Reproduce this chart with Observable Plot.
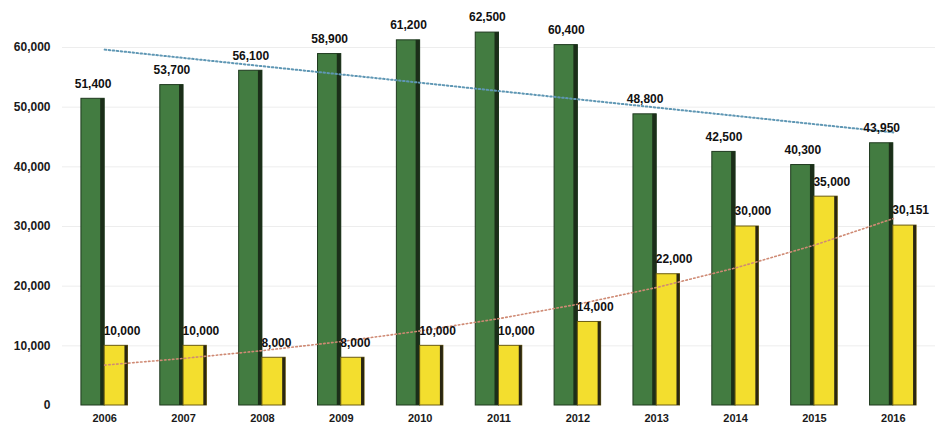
<!DOCTYPE html>
<html>
<head>
<meta charset="utf-8">
<script src="https://cdn.jsdelivr.net/npm/d3@7"></script>
<script src="https://cdn.jsdelivr.net/npm/@observablehq/plot@0.6"></script>
<style>
  html, body { margin: 0; padding: 0; background: #fff; }
  #chart { width: 949px; height: 429px; }
</style>
</head>
<body>
<div id="chart"></div>
<script>
// ---- data ----
const years = ["2006","2007","2008","2009","2010","2011","2012","2013","2014","2015","2016"];
const greenValues = [51400, 53700, 56100, 58900, 61200, 62500, 60400, 48800, 42500, 40300, 43950];
const yellowValues = [10000, 10000, 8000, 8000, 10000, 10000, 14000, 22000, 30000, 35000, 30151];
const yTicks = [0, 10000, 20000, 30000, 40000, 50000, 60000];

const data = years.map((year, i) => ({year, green: greenValues[i], yellow: yellowValues[i]}));

// trendlines (as in the spreadsheet): linear for green, exponential for yellow
function fit(xs, ys) {
  const mx = d3.mean(xs), my = d3.mean(ys);
  const b = d3.sum(xs, (x, i) => (x - mx) * (ys[i] - my)) / d3.sum(xs, x => (x - mx) ** 2);
  return {a: my - b * mx, b};
}
const idx = years.map((_, i) => i);
const lin = fit(idx, greenValues);
const ex = fit(idx, yellowValues.map(Math.log));
const greenTrend = years.map((year, i) => ({year, v: lin.a + lin.b * i}));
const yellowTrend = years.map((year, i) => ({year, v: Math.exp(ex.a + ex.b * i)}));

// ---- layout ----
const W = 949, H = 429;
const ml = 62, mr = 14, mt = 10, mb = 24;
const pInner = 0.41, pOuter = 0.24;
const step = (W - ml - mr) / (years.length - pInner + 2 * pOuter);
const bw = step * (1 - pInner);
const half = bw / 2;
const fmt = d3.format(",");

const plot = Plot.plot({
  width: W,
  height: H,
  marginLeft: ml,
  marginRight: mr,
  marginTop: mt,
  marginBottom: mb,
  style: {fontFamily: "'Liberation Sans', Arial, sans-serif", fontWeight: "bold", fontSize: "12px", color: "#1a1a1a", background: "#fff"},
  x: {type: "band", domain: years, paddingInner: pInner, paddingOuter: pOuter, round: false, label: null},
  y: {domain: [0, 66200], label: null},
  marks: [
    Plot.ruleY(yTicks.slice(1), {stroke: "#ededed", strokeWidth: 1}),
    // green bars
    Plot.barY(data, {x: "year", y: "green", fill: "#437c41", stroke: "#1f3a1f", strokeWidth: 1, insetRight: half}),
    Plot.barY(data, {x: "year", y: "green", fill: "#1b2e19", insetLeft: half - 4, insetRight: half}),
    // yellow bars
    Plot.barY(data, {x: "year", y: "yellow", fill: "#f3de2e", stroke: "#6b5c12", strokeWidth: 1, insetLeft: half}),
    Plot.barY(data, {x: "year", y: "yellow", fill: "#2a2612", insetLeft: bw - 3}),
    // trendlines
    Plot.line(greenTrend, {x: "year", y: "v", stroke: "#5f97b4", strokeWidth: 2, strokeDasharray: "1.5,2.5"}),
    Plot.line(yellowTrend, {x: "year", y: "v", stroke: "#cf8a74", strokeWidth: 1.6, strokeDasharray: "1.5,2.5"}),
    // value labels
    Plot.text(data, {x: "year", y: "green", text: d => fmt(d.green), dx: -half / 2, dy: -15, fontSize: 12, fontWeight: "bold", fill: "#111"}),
    Plot.text(data, {x: "year", y: "yellow", text: d => fmt(d.yellow), dx: -1, dy: -15, textAnchor: "start", fontSize: 12, fontWeight: "bold", fill: "#111"}),
    // axes
    Plot.axisY({ticks: yTicks, tickFormat: fmt, tickSize: 0, tickPadding: 12, fontSize: 12, fontWeight: "bold", label: null}),
    Plot.axisX({tickSize: 0, tickPadding: 9, fontSize: 11, fontWeight: "bold", label: null})
  ]
});
document.getElementById("chart").appendChild(plot);
</script>
</body>
</html>
